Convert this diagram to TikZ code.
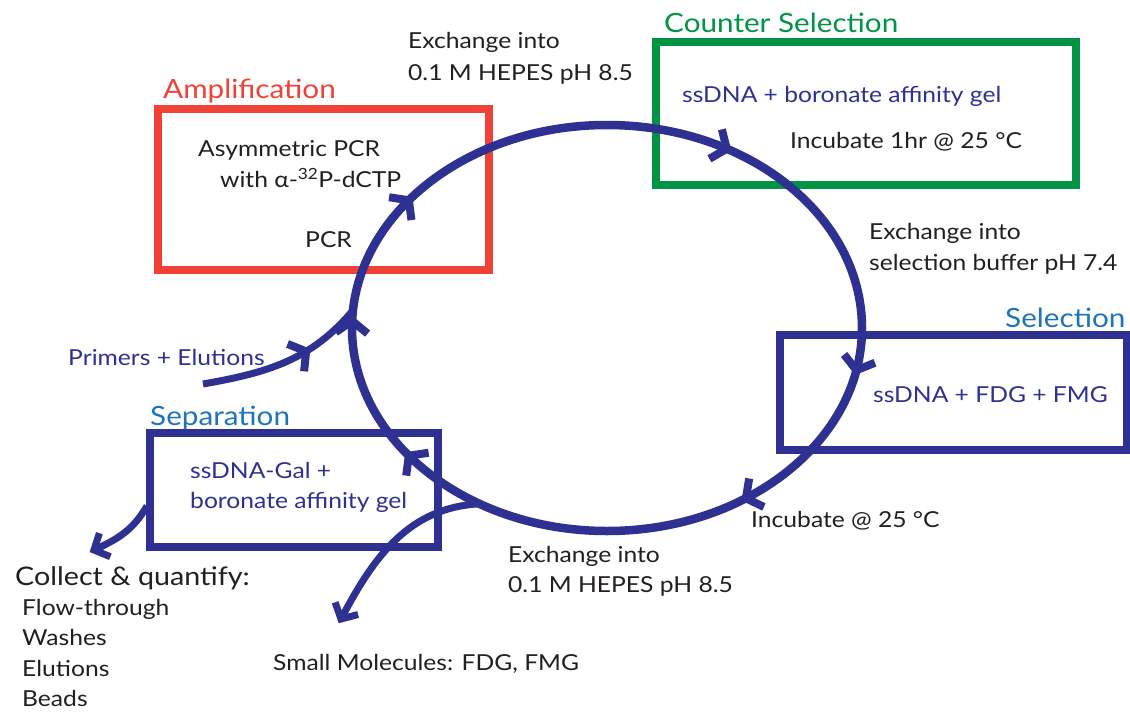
\documentclass[tikz,border=0pt]{standalone}
\usepackage{fontspec}
\setmainfont{Lato}[FakeStretch=1.12]
\definecolor{navy}{HTML}{2E3192}
\definecolor{ampred}{HTML}{EF4136}
\definecolor{cgreen}{HTML}{009444}
\definecolor{sblue}{HTML}{1C75BC}
\definecolor{txt}{HTML}{231F20}
\tikzset{
  chev/.pic={\draw[draw=navy, line width=8pt, line cap=butt, line join=miter] (-12pt,16pt) -- (0pt,0pt) -- (-12pt,-16pt);},
  chevs/.pic={\draw[draw=navy, line width=7pt, line cap=butt, line join=miter] (-12pt,13pt) -- (0pt,0pt) -- (-12pt,-13pt);},
}
\begin{document}
\begin{tikzpicture}[x=1pt,y=-1pt,
  lab/.style={anchor=base west, inner sep=0pt, text=txt, font=\fontsize{22}{26}\selectfont},
  blab/.style={lab, text=navy},
  ttl/.style={anchor=base west, inner sep=0pt, font=\fontsize{26.5}{30}\selectfont},
  frame/.style={draw=#1, line width=7.5pt, inner sep=0pt, outer sep=0pt},
  flow/.style={draw=navy, line width=8.5pt},
  feed/.style={draw=navy, line width=7pt},
]
\useasboundingbox[fill=white] (0,0) rectangle (1130,715);

% boxes
\node[frame=ampred, minimum width=331pt, minimum height=161pt] (ampbox) at (323.5,189.5) {};
\node[frame=cgreen, minimum width=420pt, minimum height=143pt] (cselbox) at (866,113.5) {};
\node[frame=navy, minimum width=347pt, minimum height=115pt] (selbox) at (953.5,392.5) {};
\node[frame=navy, minimum width=288pt, minimum height=114pt] (sepbox) at (294,490) {};

% titles
\node[ttl, text=ampred] (tamp) at (163,98) {Amplification};
\node[ttl, text=cgreen] (tcsel) at (664,32) {Counter Selection};
\node[ttl, text=sblue] (tsel) at (1005,327) {Selection};
\node[ttl, text=sblue] (tsep) at (150,425) {Separation};

% cycle
\coordinate (c) at (607,328);
\draw[flow] (c) ellipse [x radius=255, y radius=203];
\foreach \t in {12,57,141,182,219,298}{
  \path (c) ++(\t:255 and 203) pic[rotate={atan2(-203*cos(\t),-255*sin(\t))}] {chev};
}

% feeds
\coordinate (pS) at (203,384);
\path (c) ++(185:255 and 203) coordinate (pE);
\draw[feed] (pS) to[out=10, in=230] pic[pos=0.64, sloped] {chev} (pE);

\path (c) ++(120:255 and 203) coordinate (sS);
\coordinate (smT) at (341,619);
\draw[feed, shorten >=4pt] (sS) to[out=183, in=62] (smT);
\path (smT) pic[rotate=242] {chevs};

\coordinate (cS) at (147,506);
\coordinate (cT) at (94,550);
\draw[feed, shorten >=4pt] (cS) to[out=240, in=25] (cT);
\path (cT) pic[rotate=205] {chevs};

% texts
\node[lab] (e1a) at (408,48) {Exchange into};
\node[lab] (e1b) at (408,80) {0.1 M HEPES pH 8.5};
\node[lab] (asy) at (198,156) {Asymmetric PCR};
\node[lab] (asy2) at (220,187) {with α-\textsuperscript{32}P-dCTP};
\node[lab] (pcr) at (305,247) {PCR};
\node[blab] (csel1) at (682,102) {ssDNA + boronate affinity gel};
\node[lab] (csel2) at (790,148) {Incubate 1hr @ 25 °C};
\node[lab] (e2a) at (869,239) {Exchange into};
\node[lab] (e2b) at (869,270) {selection buffer pH 7.4};
\node[blab] (sel1) at (873,402) {ssDNA + FDG + FMG};
\node[lab] (inc) at (751,527) {Incubate @ 25 °C};
\node[lab] (e3a) at (508,562) {Exchange into};
\node[lab] (e3b) at (508,592) {0.1 M HEPES pH 8.5};
\node[lab] (small) at (273,670) {Small Molecules: FDG, FMG};
\node[blab] (prim) at (68,365) {Primers + Elutions};
\node[blab] (sep1) at (190,478) {ssDNA-Gal +};
\node[blab] (sep2) at (190,508) {boronate affinity gel};
\node[lab, font=\fontsize{25.6}{30}\selectfont] (coll) at (15,585) {Collect \& quantify:};
\node[lab] (l1) at (22,615) {Flow-through};
\node[lab] (l2) at (22,645) {Washes};
\node[lab] (l3) at (22,676) {Elutions};
\node[lab] (l4) at (22,706) {Beads};
\end{tikzpicture}
\end{document}
